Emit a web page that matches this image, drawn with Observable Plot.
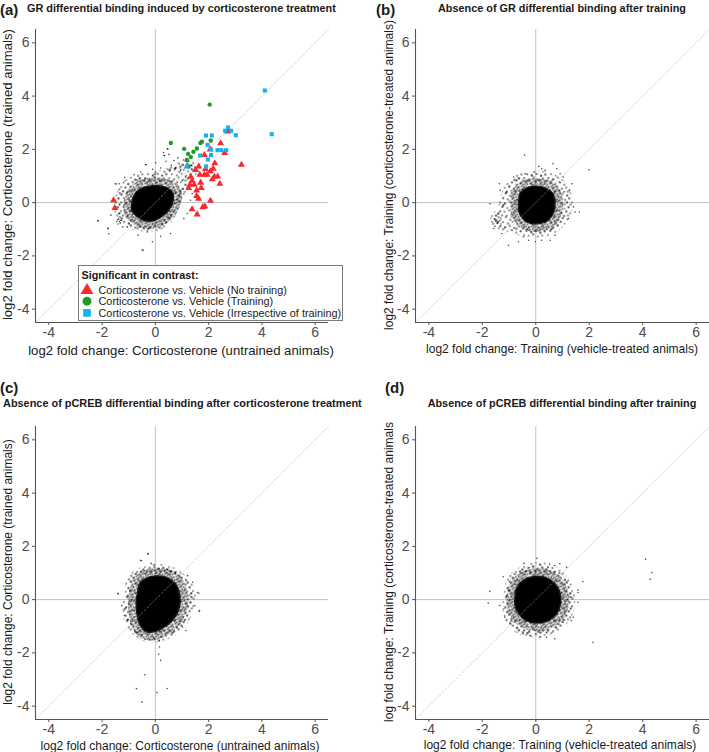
<!DOCTYPE html>
<html><head><meta charset="utf-8">
<script src="https://cdn.jsdelivr.net/npm/d3@7"></script>
<script src="https://cdn.jsdelivr.net/npm/@observablehq/plot@0.6"></script>
<style>
html,body{margin:0;padding:0;background:#fff;}
#root{position:relative;width:709px;height:752px;overflow:hidden;font-family:"Liberation Sans",Arial,Helvetica,sans-serif;color:#1a1a1a;}
.abs{position:absolute;white-space:nowrap;line-height:1;}
.panel{position:absolute;}
</style></head><body>
<svg width="0" height="0" style="position:absolute">
<defs>
<pattern id="speck" width="24" height="24" patternUnits="userSpaceOnUse">
 <g fill="#000" fill-opacity="0.9">
 <circle cx="1.2" cy="2.1" r="0.8"/><circle cx="6.3" cy="0.8" r="0.8"/><circle cx="10.7" cy="3.4" r="0.8"/><circle cx="15.2" cy="1.5" r="0.8"/><circle cx="19.8" cy="3.0" r="0.8"/><circle cx="23.1" cy="0.6" r="0.8"/>
 <circle cx="3.5" cy="5.6" r="0.8"/><circle cx="8.4" cy="6.9" r="0.8"/><circle cx="13.1" cy="5.2" r="0.8"/><circle cx="17.6" cy="7.4" r="0.8"/><circle cx="21.9" cy="5.9" r="0.8"/>
 <circle cx="0.7" cy="9.8" r="0.8"/><circle cx="5.6" cy="10.9" r="0.8"/><circle cx="10.2" cy="9.1" r="0.8"/><circle cx="14.8" cy="11.3" r="0.8"/><circle cx="19.4" cy="9.9" r="0.8"/><circle cx="23.3" cy="12.1" r="0.8"/>
 <circle cx="2.9" cy="14.2" r="0.8"/><circle cx="7.8" cy="15.6" r="0.8"/><circle cx="12.4" cy="13.8" r="0.8"/><circle cx="16.9" cy="16.2" r="0.8"/><circle cx="21.2" cy="14.7" r="0.8"/>
 <circle cx="0.4" cy="18.6" r="0.8"/><circle cx="5.1" cy="19.3" r="0.8"/><circle cx="9.7" cy="18.1" r="0.8"/><circle cx="14.3" cy="20.4" r="0.8"/><circle cx="18.8" cy="19.0" r="0.8"/><circle cx="22.7" cy="20.9" r="0.8"/>
 <circle cx="2.6" cy="22.9" r="0.8"/><circle cx="7.2" cy="23.4" r="0.8"/><circle cx="11.9" cy="22.2" r="0.8"/><circle cx="16.4" cy="23.6" r="0.8"/><circle cx="20.5" cy="23.0" r="0.8"/>
 <circle cx="12.0" cy="0.2" r="0.8"/><circle cx="4.0" cy="12.5" r="0.8"/><circle cx="17.0" cy="12.0" r="0.8"/>
 </g>
</pattern>
<pattern id="dense" width="10" height="10" patternUnits="userSpaceOnUse">
 <g fill="#000" fill-opacity="0.9">
 <circle cx="0.8" cy="1.1" r="0.85"/><circle cx="3.6" cy="0.4" r="0.85"/><circle cx="6.2" cy="1.9" r="0.85"/><circle cx="8.9" cy="0.9" r="0.85"/>
 <circle cx="1.9" cy="3.8" r="0.85"/><circle cx="4.8" cy="3.1" r="0.85"/><circle cx="7.5" cy="4.4" r="0.85"/><circle cx="9.5" cy="3.6" r="0.85"/>
 <circle cx="0.3" cy="6.2" r="0.85"/><circle cx="3.1" cy="6.6" r="0.85"/><circle cx="5.9" cy="6.0" r="0.85"/><circle cx="8.6" cy="7.1" r="0.85"/>
 <circle cx="1.6" cy="8.9" r="0.85"/><circle cx="4.4" cy="9.3" r="0.85"/><circle cx="7.1" cy="8.6" r="0.85"/><circle cx="9.6" cy="9.8" r="0.85"/>
 </g>
</pattern>
</defs></svg>
<div id="root"></div>
<script>
// ---------- shared axis data ----------
const domain = [-4.5, 6.5];
const ticks = [-4, -2, 0, 2, 4, 6];
const diagonal = [-4.45, 6.5];

// ---------- panel texts ----------
const panelLabels = ["(a)", "(b)", "(c)", "(d)"];
const panelTitles = [
  "GR differential binding induced by corticosterone treatment",
  "Absence of GR differential binding after training",
  "Absence of pCREB differential binding after corticosterone treatment",
  "Absence of pCREB differential binding after training"
];
const xTitles = [
  "log2 fold change: Corticosterone (untrained animals)",
  "log2 fold change: Training (vehicle-treated animals)",
  "log2 fold change: Corticosterone (untrained animals)",
  "log2 fold change: Training (vehicle-treated animals)"
];
const yTitles = [
  "log2 fold change: Corticosterone (trained animals)",
  "log2 fold change: Training (corticosterone-treated animals)",
  "log2 fold change: Corticosterone (trained animals)",
  "log fold change: Training (corticosterone-treated animals"
];
const legendTitle = "Significant in contrast:";
const legendItems = [
  "Corticosterone vs. Vehicle (No training)",
  "Corticosterone vs. Vehicle (Training)",
  "Corticosterone vs. Vehicle (Irrespective of training)"
];

// ---------- panel (a) ----------
const coreA = [[-0.86,-0.04],[-0.77,0.27],[-0.55,0.49],[-0.24,0.59],[0.14,0.61],[0.45,0.52],[0.64,0.34],[0.64,0.09],[0.51,-0.22],[0.26,-0.47],[-0.05,-0.64],[-0.42,-0.64],[-0.70,-0.47],[-0.86,-0.29]];
const haloA = [[-1.42,0.09],[-1.30,0.46],[-1.05,0.77],[-0.67,0.96],[-0.30,1.02],[0.20,1.11],[0.70,1.31],[1.07,1.48],[1.38,1.46],[1.45,1.15],[1.26,0.77],[1.01,0.34],[0.76,-0.16],[0.57,-0.60],[0.20,-0.91],[-0.30,-0.97],[-0.86,-0.91],[-1.23,-0.66],[-1.42,-0.35]];
const grayA = [[0.35,1.76],[0.47,2.01],[0.31,1.88],[-0.34,1.42],[-0.02,1.07],[-1.15,0.95],[-1.46,0.70],[-2.14,-0.67],[-1.77,-0.98],[-1.75,-1.17],[-0.46,-1.79],[-1.27,-0.67],[-2.17,-0.69],[-1.79,-0.95],[-1.51,0.71],[-1.36,0.71],[-1.23,-0.91],[-0.49,-1.78],[-0.37,1.43],[0.45,2.02],[0.32,1.77],[0.51,1.81],[0.70,1.58],[0.85,1.68],[0.01,1.50],[0.95,1.21],[-0.30,-1.10],[-0.65,-1.22],[0.20,-1.26],[0.57,-1.16],[1.07,-0.60],[1.20,-0.41],[1.32,0.09],[1.38,0.34],[-0.11,-1.47],[-1.42,-0.64],[-1.32,-0.76],[-1.05,-0.91],[-1.67,-0.47],[1.01,0.83],[1.13,0.96],[0.82,0.77],[-1.38,-0.62],[-1.35,-0.70],[-1.30,-0.66],[-1.45,-0.72],[-1.40,-0.80],[0.60,1.40],[0.75,1.30],[0.90,1.45],[1.05,1.60],[0.55,1.25],[1.25,1.55],[0.40,1.55],[0.20,1.30],[-0.10,1.25],[-0.55,1.15],[-0.80,1.05]];
const redA = [[-1.57,0.09],[-1.52,-0.20],[2.45,2.23],[2.72,2.67],[3.23,1.42],[1.84,1.79],[2.06,2.00],[2.23,1.48],[2.60,1.86],[1.63,1.36],[1.51,1.23],[1.67,1.05],[1.38,0.82],[1.30,0.67],[1.46,0.67],[1.70,0.75],[1.84,1.05],[1.94,1.05],[2.17,1.27],[2.22,0.97],[2.34,0.98],[2.14,0.88],[2.42,0.71],[1.25,0.55],[1.72,0.55],[1.55,0.46],[1.55,0.25],[1.62,0.15],[2.07,0.07],[1.38,-0.25],[1.57,-0.44],[1.78,-0.17],[1.86,-0.14],[1.33,0.97],[2.06,1.18],[1.88,1.26]];
const greenA = [[2.04,3.68],[0.58,2.24],[1.08,2.02],[1.23,1.83],[1.43,1.91],[1.56,2.03],[1.69,2.24],[1.75,2.29],[2.08,2.33],[1.18,1.60],[1.33,1.71],[1.24,1.36]];
const blueA = [[4.11,4.21],[4.37,2.57],[2.73,2.82],[2.62,2.70],[2.84,2.70],[3.02,2.53],[1.90,2.52],[2.12,2.52],[1.96,2.17],[2.08,2.01],[2.33,1.97],[2.48,1.97],[2.66,1.97],[1.68,1.77],[2.09,1.79],[1.97,1.62],[1.90,1.36],[1.18,1.36]];

// ---------- panel (b) ----------
const coreB = [[-0.61,-0.04],[-0.56,0.34],[-0.34,0.52],[-0.02,0.59],[0.35,0.52],[0.60,0.34],[0.69,0.02],[0.64,-0.35],[0.44,-0.64],[0.10,-0.76],[-0.27,-0.72],[-0.52,-0.51],[-0.61,-0.29]];
const haloB = [[-1.21,0.21],[-1.02,0.65],[-0.65,0.96],[-0.15,1.08],[0.35,1.06],[0.79,0.90],[1.10,0.59],[1.26,0.15],[1.22,-0.35],[0.97,-0.79],[0.54,-1.10],[-0.02,-1.20],[-0.59,-1.13],[-1.08,-0.97],[-1.52,-0.79],[-1.58,-0.54],[-1.33,-0.29],[-1.27,-0.04]];
const grayB = [[-0.42,1.79],[1.99,1.23],[0.64,1.46],[0.11,1.36],[0.79,1.27],[0.35,1.21],[0.22,1.27],[-1.36,0.71],[-1.33,0.46],[-1.71,-0.04],[-1.64,-0.72],[-1.58,-0.97],[-1.46,-0.66],[-1.40,-0.72],[-1.02,-1.60],[-0.65,-1.47],[-0.02,-1.47],[0.22,-1.41],[0.54,-1.41],[0.72,-1.22],[1.47,-0.35],[1.63,-0.35],[1.41,-0.16],[1.22,-0.60],[1.26,0.46],[1.35,0.71],[1.03,0.96],[0.91,1.08],[-0.83,0.96],[-0.40,1.08],[-0.27,-1.41],[-0.46,-1.28],[-1.27,-1.16],[-1.50,-0.70],[-1.43,-0.78],[-1.35,-0.68],[-1.30,-0.80],[-1.55,-0.62]];

// ---------- panel (c) ----------
const coreC = [[-0.64,0.27],[-0.56,0.59],[-0.35,0.77],[0.02,0.86],[0.40,0.81],[0.71,0.61],[0.86,0.27],[0.90,-0.10],[0.81,-0.47],[0.59,-0.79],[0.27,-1.03],[-0.04,-1.18],[-0.35,-1.16],[-0.56,-0.93],[-0.66,-0.54],[-0.69,-0.10]];
const haloC = [[-1.06,0.09],[-1.01,0.59],[-0.79,0.96],[-0.41,1.15],[0.02,1.23],[0.46,1.18],[0.90,0.96],[1.23,0.65],[1.40,0.27],[1.33,-0.29],[1.15,-0.79],[0.83,-1.16],[0.40,-1.41],[-0.04,-1.51],[-0.47,-1.43],[-0.85,-1.16],[-1.06,-0.79],[-1.16,-0.35]];
const grayC = [[-0.29,1.71],[-0.56,1.48],[-0.16,1.36],[-0.04,1.31],[-1.41,0.24],[-1.26,-0.22],[-1.16,-0.60],[-1.03,-0.76],[1.58,0.27],[1.64,-0.44],[1.48,-0.22],[1.40,0.65],[1.21,0.90],[1.02,-1.03],[1.15,-1.16],[0.15,-1.53],[0.15,-1.78],[0.12,-2.05],[0.20,-2.28],[-0.40,-2.82],[-0.71,-3.34],[0.44,-3.34],[0.06,-3.49],[-0.50,-3.84],[-1.39,0.21],[1.66,-0.41],[1.63,0.24],[-0.26,1.73],[-0.52,1.46]];

// ---------- panel (d) ----------
const coreD = [[-0.75,0.02],[-0.70,0.40],[-0.47,0.69],[-0.10,0.83],[0.34,0.81],[0.67,0.61],[0.87,0.27],[0.90,-0.16],[0.77,-0.51],[0.46,-0.76],[0.05,-0.85],[-0.35,-0.76],[-0.62,-0.51],[-0.75,-0.22]];
const haloD = [[-1.12,0.09],[-1.03,0.59],[-0.79,0.96],[-0.35,1.21],[0.09,1.31],[0.59,1.21],[1.02,0.90],[1.27,0.46],[1.37,-0.04],[1.27,-0.54],[0.96,-0.97],[0.46,-1.22],[-0.04,-1.31],[-0.54,-1.22],[-0.91,-0.93],[-1.12,-0.47]];
const grayD = [[4.11,1.52],[4.34,1.02],[4.28,0.76],[2.14,-1.60],[-1.72,0.31],[-1.78,-0.13],[-1.22,0.86],[-0.44,1.36],[0.04,1.55],[0.15,1.33],[0.71,1.28],[0.90,1.35],[1.76,0.68],[1.58,0.36],[1.58,0.27],[1.58,-0.10],[1.40,-0.66],[1.33,-0.79],[0.71,-1.47],[0.40,-1.41],[0.15,-1.41],[-0.22,-1.35],[-0.47,-1.28],[-1.35,-0.22],[-1.16,-0.66],[-0.97,-0.88],[1.21,0.71],[1.15,1.21],[0.52,1.33]];

// ---------- colours ----------
const colRed = "#f8282c", colGreen = "#1f9a25", colBlue = "#15b0f2";

const root = document.getElementById("root");

function panel(opts) {
  const {core, halo, gray, sig, left, top, width, height, mt, mb, ml, mr} = opts;
  const X = d => d[0], Y = d => d[1];
  const marks = [
    Plot.ruleX([0], {stroke: "#c2c2c2", strokeWidth: 1}),
    Plot.ruleY([0], {stroke: "#c2c2c2", strokeWidth: 1}),
    Plot.line(diagonal, {x: d => d, y: d => d, stroke: "#c6c6c6", strokeWidth: 1, strokeDasharray: "2,2"}),
    Plot.line(halo, {x: X, y: Y, curve: "catmull-rom-closed", fill: "url(#speck)", stroke: "url(#speck)", strokeWidth: 6}),
    Plot.line(core, {x: X, y: Y, curve: "catmull-rom-closed", fill: "none", stroke: "url(#dense)", strokeWidth: 18}),
    Plot.line(core, {x: X, y: Y, curve: "catmull-rom-closed", fill: "#000", stroke: "#000", strokeOpacity: 0.85, strokeWidth: 3}),
    Plot.dot(gray, {x: X, y: Y, r: 0.8, fill: "#000", fillOpacity: 0.7}),
    Plot.line(diagonal, {x: d => d, y: d => d, stroke: "#ffffff", strokeOpacity: 0.35, strokeWidth: 1, strokeDasharray: "2,2"})
  ];
  if (sig) {
    marks.push(Plot.dot(sig.red, {x: X, y: Y, symbol: "triangle", r: 2.6, fill: colRed}));
    marks.push(Plot.dot(sig.green, {x: X, y: Y, symbol: "circle", r: 2.2, fill: colGreen}));
    marks.push(Plot.dot(sig.blue, {x: X, y: Y, symbol: "square", r: 2.3, fill: colBlue}));
  }
  marks.push(
    Plot.ruleX([domain[0]], {stroke: "#555", strokeWidth: 1.1}),
    Plot.ruleY([domain[0]], {stroke: "#555", strokeWidth: 1.1}),
    Plot.axisX({ticks, tickSize: 3, tickPadding: 2, fontSize: 14, tickFormat: d => String(d), label: null, stroke: "#555"}),
    Plot.axisY({ticks, tickSize: 3, tickPadding: 3, fontSize: 14, tickFormat: d => String(d), label: null, stroke: "#555"})
  );
  const svg = Plot.plot({
    width, height,
    marginTop: mt, marginBottom: mb, marginLeft: ml, marginRight: mr,
    x: {domain}, y: {domain},
    style: {color: "#4d4d4d", fontFamily: '"Liberation Sans", Arial, sans-serif', background: "transparent", overflow: "visible"},
    marks
  });
  const div = document.createElement("div");
  div.className = "panel";
  div.style.left = left + "px";
  div.style.top = top + "px";
  div.appendChild(svg);
  root.appendChild(div);
}

panel({core: coreA, halo: haloA, gray: grayA, sig: {red: redA, green: greenA, blue: blueA}, left: 0, top: 0, width: 355, height: 380, mt: 29, mb: 58, ml: 35, mr: 27});
panel({core: coreB, halo: haloB, gray: grayB, left: 355, top: 0, width: 354, height: 380, mt: 29, mb: 58, ml: 60, mr: 0});
panel({core: coreC, halo: haloC, gray: grayC, left: 0, top: 380, width: 355, height: 372, mt: 46, mb: 33, ml: 35, mr: 27});
panel({core: coreD, halo: haloD, gray: grayD, left: 355, top: 380, width: 354, height: 372, mt: 46, mb: 33, ml: 60, mr: 0});

// ---------- text helper ----------
function addText(str, {x, y, size, bold, anchor = "start", width, rotate = false, color = "#1a1a1a"}) {
  const el = document.createElement("div");
  el.className = "abs";
  el.textContent = str;
  el.style.fontSize = size + "px";
  el.style.fontWeight = bold ? "bold" : "normal";
  el.style.color = color;
  root.appendChild(el);
  if (width) {
    const w = el.getBoundingClientRect().width;
    size = size * width / w;
    el.style.fontSize = size + "px";
  }
  const r = el.getBoundingClientRect();
  const w = r.width, h = r.height;
  if (rotate) {
    el.style.left = (x - w / 2) + "px";
    el.style.top = (y - h / 2) + "px";
    el.style.transform = "rotate(-90deg)";
  } else {
    let lx = anchor === "middle" ? x - w / 2 : x;
    el.style.left = lx + "px";
    el.style.top = (y - h / 2) + "px";
  }
  return size;
}

// panel labels and titles
addText(panelLabels[0], {x: 0, y: 9, size: 15, bold: true});
addText(panelTitles[0], {x: 27, y: 8, size: 10, bold: true, width: 309});
addText(panelLabels[1], {x: 376, y: 9, size: 15, bold: true});
addText(panelTitles[1], {x: 562, y: 8, size: 10, bold: true, anchor: "middle", width: 248});
addText(panelLabels[2], {x: 0, y: 387, size: 15, bold: true});
addText(panelTitles[2], {x: 3, y: 403, size: 10, bold: true, width: 359});
addText(panelLabels[3], {x: 385, y: 387, size: 15, bold: true});
addText(panelTitles[3], {x: 562, y: 403, size: 10, bold: true, anchor: "middle", width: 269});

// axis titles
const sa = addText(xTitles[0], {x: 181, y: 351, size: 12, anchor: "middle", width: 306});
const sb = addText(xTitles[1], {x: 562, y: 349, size: 12, anchor: "middle", width: 272});
const sc = addText(xTitles[2], {x: 180, y: 745.5, size: 12, anchor: "middle", width: 279});
const sd = addText(xTitles[3], {x: 560, y: 745.5, size: 12, anchor: "middle", width: 273});
addText(yTitles[0], {x: 8, y: 175, size: sa, rotate: true});
addText(yTitles[1], {x: 389, y: 175, size: sb, rotate: true});
addText(yTitles[2], {x: 8, y: 572, size: sc, rotate: true});
addText(yTitles[3], {x: 389, y: 572, size: sd, rotate: true});

// ---------- legend (panel a) ----------
const leg = document.createElement("div");
leg.className = "abs";
leg.style.left = "78px"; leg.style.top = "265px";
leg.style.width = "265px"; leg.style.height = "56px";
leg.style.background = "#fff"; leg.style.border = "1px solid #7a7a7a";
leg.style.boxSizing = "border-box";
root.appendChild(leg);
const lsvg = d3.create("svg").attr("width", 263).attr("height", 54).style("position", "absolute").style("left", "0px").style("top", "0px").node();
leg.appendChild(lsvg);
const ls = d3.select(lsvg);
const ff = '"Liberation Sans", Arial, sans-serif';
const lt = ls.append("text").attr("x", 2.5).attr("y", 12.5).attr("font-size", 10.6).attr("font-weight", "bold").attr("fill", "#1a1a1a").attr("font-family", ff).text(legendTitle);
const tw = lt.node().getComputedTextLength();
lt.attr("font-size", 10.6 * 117 / tw);
const symCols = [colRed, colGreen, colBlue];
const symTypes = [d3.symbolTriangle, d3.symbolCircle, d3.symbolSquare];
const symSizes = [70, 62, 58];
const itemNodes = [];
legendItems.forEach((t, i) => {
  const cy = 23.5 + i * 11.7;
  ls.append("path").attr("d", d3.symbol(symTypes[i], symSizes[i])()).attr("transform", `translate(8,${cy + (i === 0 ? 0.8 : 0)})`).attr("fill", symCols[i]);
  itemNodes.push(ls.append("text").attr("x", 19.5).attr("y", cy + 4).attr("font-size", 11).attr("fill", "#1a1a1a").attr("font-family", ff).text(t));
});
// fit the longest item to the reference width
const longest = itemNodes[2].node().getComputedTextLength();
const fs = 11 * 243 / longest;
itemNodes.forEach(n => n.attr("font-size", fs));
</script>
</body></html>
